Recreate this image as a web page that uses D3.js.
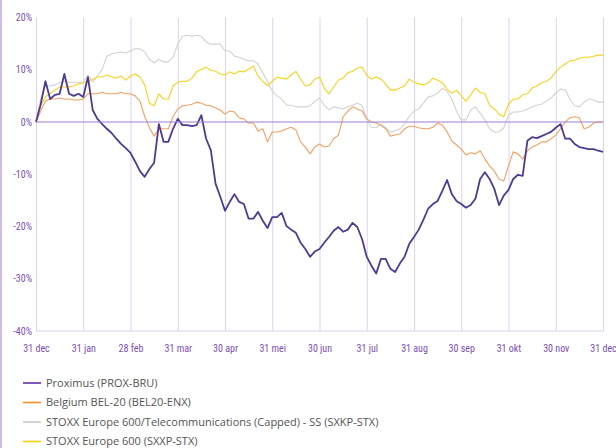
<!DOCTYPE html>
<html><head><meta charset="utf-8">
<script src="https://cdn.jsdelivr.net/npm/d3@7"></script>
<style>
html,body{margin:0;padding:0;background:#fff;}
svg{display:block;}
</style></head>
<body>
<svg id="chart" width="616" height="448"></svg>
<script>
// Month-end labels (x categories); values sampled every 1/10 month
const monthLabels = ["31 dec","31 jan","28 feb","31 mar","30 apr","31 mei","30 jun","31 jul","31 aug","30 sep","31 okt","30 nov","31 dec"];
const yTicks = [20, 10, 0, -10, -20, -30, -40];
const seriesNames = ["Proximus (PROX-BRU)","Belgium BEL-20 (BEL20-ENX)","STOXX Europe 600/Telecommunications (Capped) - SS (SXKP-STX)","STOXX Europe 600 (SXXP-STX)"];

const proximus = [0,3.4,7.8,4.4,5.2,5.4,9.2,5.4,5.0,5.4,4.8,8.6,2.3,0.6,-0.4,-1.3,-2.1,-3.2,-4.2,-5.0,
 -5.9,-7.6,-9.4,-10.5,-9.0,-7.8,-0.4,-3.8,-3.8,-1.3,0.6,-0.6,-0.6,-0.8,-0.6,1.3,-3.2,-5.4,-11.8,-14.3,
 -17.0,-15.3,-13.8,-15.3,-15.7,-18.5,-18.5,-17.2,-18.9,-20.3,-18.2,-18.2,-17.4,-19.9,-20.6,-21.2,-23.1,-24.3,-25.8,-24.8,
 -24.3,-23.1,-22.0,-20.8,-20.1,-21.0,-20.6,-19.3,-20.1,-22.4,-25.8,-27.5,-29.0,-26.2,-26.2,-28.1,-28.7,-27.1,-25.8,-23.3,
 -22.0,-20.6,-18.7,-16.6,-15.7,-15.1,-13.2,-11.1,-13.8,-15.1,-15.7,-16.4,-15.9,-14.7,-10.9,-9.6,-10.9,-12.8,-15.9,-14.1,
 -13.0,-10.9,-10.1,-10.3,-3.6,-2.9,-3.1,-2.7,-2.3,-1.9,-1.1,-0.4,-3.2,-3.2,-4.2,-4.8,-5.0,-5.2,-5.2,-5.5,-5.7];

const bel20 = [0,2.1,4.0,4.4,4.4,4.6,4.4,4.4,4.2,4.2,4.4,5.4,5.4,5.4,5.7,5.4,5.4,5.4,5.7,5.4,
 5.4,5.0,4.0,1.1,-1.1,-2.7,-1.3,-1.3,-1.3,1.0,2.5,3.1,3.2,3.4,3.8,3.6,3.2,3.1,2.7,2.3,
 1.5,2.1,1.9,0.8,0.6,-0.2,-0.2,-1.7,-1.3,-3.8,-1.9,-1.9,-1.7,-1.3,-1.0,-1.5,-3.8,-4.8,-6.1,-4.8,
 -4.2,-4.8,-4.6,-3.2,-2.5,1.0,2.1,2.9,2.5,2.1,0.6,0,-0.2,-0.6,-1.3,-2.7,-2.5,-2.3,-1.3,-0.8,
 -0.8,-1.1,-1.3,-1.3,-1.0,-0.2,-0.6,-1.9,-3.6,-4.4,-5.2,-6.3,-5.9,-6.1,-5.5,-7.1,-8.4,-9.4,-10.9,-11.3,
 -8.4,-5.7,-6.1,-7.1,-5.5,-4.8,-4.4,-3.8,-3.8,-3.2,-2.5,-1.3,0,0.8,1.0,0.8,-1.3,-1.0,-0.2,0,0];

const telecom = [0,4.4,6.9,6.9,7.1,7.5,7.8,7.6,7.6,7.6,7.6,9.0,7.6,8.8,10.1,12.6,13.0,13.2,13.4,13.2,
 13.6,14.0,14.0,13.4,12.0,11.3,12.0,11.5,11.5,12.4,14.9,16.4,16.6,16.4,16.6,16.4,15.3,14.9,14.9,14.9,
 13.6,13.6,12.6,12.4,12.0,11.7,11.7,11.1,9.4,7.8,5.9,5.0,4.4,3.2,3.2,2.9,2.9,2.9,3.1,4.0,
 4.6,3.2,2.3,2.9,2.7,2.5,2.9,3.2,3.6,3.2,0.6,-1.0,-1.1,-0.4,-1.1,-1.9,-1.7,-1.3,-0.4,1.1,
 2.1,2.5,3.6,4.8,5.0,5.5,6.5,5.9,4.4,2.1,0.4,0.4,2.3,2.9,1.7,0.4,-1.3,-1.9,-1.9,-1.1,
 1.3,1.9,1.9,2.1,2.5,2.9,3.2,3.4,4.0,4.6,5.5,6.3,6.1,4.4,3.1,2.9,3.8,4.4,4.2,3.8,3.8];

const stoxx600 = [0,3.1,4.8,5.5,6.1,6.7,6.7,6.7,6.9,7.3,7.5,7.8,8.2,8.6,8.6,9.0,8.6,8.4,8.8,8.0,
 8.8,9.2,8.6,7.1,3.6,3.1,5.4,4.4,4.4,6.9,7.6,7.8,7.8,8.4,9.6,10.1,10.5,9.9,9.7,9.2,
 9.0,9.6,9.2,9.7,9.6,10.1,10.7,8.8,7.8,6.9,7.8,8.6,8.4,8.2,9.0,9.7,8.2,6.9,7.1,8.2,
 8.6,6.5,5.4,6.7,8.0,8.4,9.4,9.7,10.3,10.5,9.0,8.2,8.6,8.2,7.3,6.1,6.1,6.5,6.9,8.2,
 7.6,7.3,7.1,7.5,8.4,8.0,7.5,6.3,5.5,6.1,5.0,4.0,5.2,6.5,5.7,5.4,3.2,2.5,1.5,1.0,
 3.4,4.4,4.4,5.2,5.4,6.5,6.9,7.5,7.8,8.4,9.6,10.5,11.1,11.7,11.8,12.2,12.4,12.4,12.6,12.8,12.8];

const lineColors = ["#4e3a92","#f3a062","#d2d2d2","#f8d21e"];
const legendColors = ["#5b2fa8","#f7941d","#c8c8c8","#ffcc00"];

const svg = d3.select("#chart");
const W = 616, H = 448;
const pLeft = 36, pRight = 603, pTop = 17.5, pBottom = 331;

// left border line
svg.append("line").attr("x1",1).attr("x2",1).attr("y1",0).attr("y2",H)
  .attr("stroke","#bfa6de").attr("stroke-width",1.5);

const x = d3.scaleLinear().domain([0,12]).range([pLeft,pRight]);
const y = d3.scaleLinear().domain([-40,20]).range([pBottom,pTop]);

const labelFont = "'Liberation Sans Narrow','Roboto Condensed','Liberation Sans',sans-serif";

// x axis with vertical gridlines
const xAxis = d3.axisBottom(x).tickValues(d3.range(13)).tickFormat(i => monthLabels[i])
  .tickSizeInner(-(pBottom-pTop)).tickSizeOuter(0).tickPadding(14);
const gx = svg.append("g").attr("transform",`translate(0,${pBottom})`).call(xAxis);
gx.select(".domain").remove();
gx.selectAll(".tick line").attr("stroke","#ddd2ee").attr("stroke-width",1);
gx.selectAll(".tick text").attr("fill","#7b4fb3").style("font-family",labelFont).style("font-size","10px");

// bottom baseline
svg.append("line").attr("x1",pLeft).attr("x2",pRight).attr("y1",y(-40)).attr("y2",y(-40))
  .attr("stroke","#ddd2ee").attr("stroke-width",1);

// y axis labels
const yAxis = d3.axisLeft(y).tickValues(yTicks).tickFormat(d => d + "%").tickSize(0).tickPadding(4);
const gy = svg.append("g").attr("transform",`translate(${pLeft},0)`).call(yAxis);
gy.select(".domain").remove();
gy.selectAll(".tick text").attr("fill","#7b4fb3").style("font-family",labelFont).style("font-size","10px");

// series lines (gray, yellow, orange, purple on top)
const allSeries = [proximus, bel20, telecom, stoxx600];
const order = [2,3,1,0];
const widths = [1.8,1.1,1.1,1.1];
const line = d3.line().x((d,i) => x(i/10)).y(d => y(d)).curve(d3.curveLinear);
order.forEach(si => {
  svg.append("path").datum(allSeries[si]).attr("d", line).attr("fill","none")
    .attr("stroke", lineColors[si]).attr("stroke-width", widths[si]).attr("stroke-linejoin","round");
});

// zero line
svg.append("line").attr("x1",pLeft).attr("x2",pRight).attr("y1",y(0)).attr("y2",y(0))
  .attr("stroke","#9c7fd2").attr("stroke-width",1);

// legend
const lg = svg.append("g");
seriesNames.forEach((name,i) => {
  const ly = 383 + i*19.5;
  lg.append("line").attr("x1",23).attr("x2",41).attr("y1",ly).attr("y2",ly)
    .attr("stroke",legendColors[i]).attr("stroke-width",1.6);
  lg.append("text").attr("x",46).attr("y",ly).attr("dy","0.35em")
    .attr("fill","#555").style("font-family","'Open Sans',Lato,sans-serif").style("font-size","11px").text(name);
});
</script>
</body></html>
